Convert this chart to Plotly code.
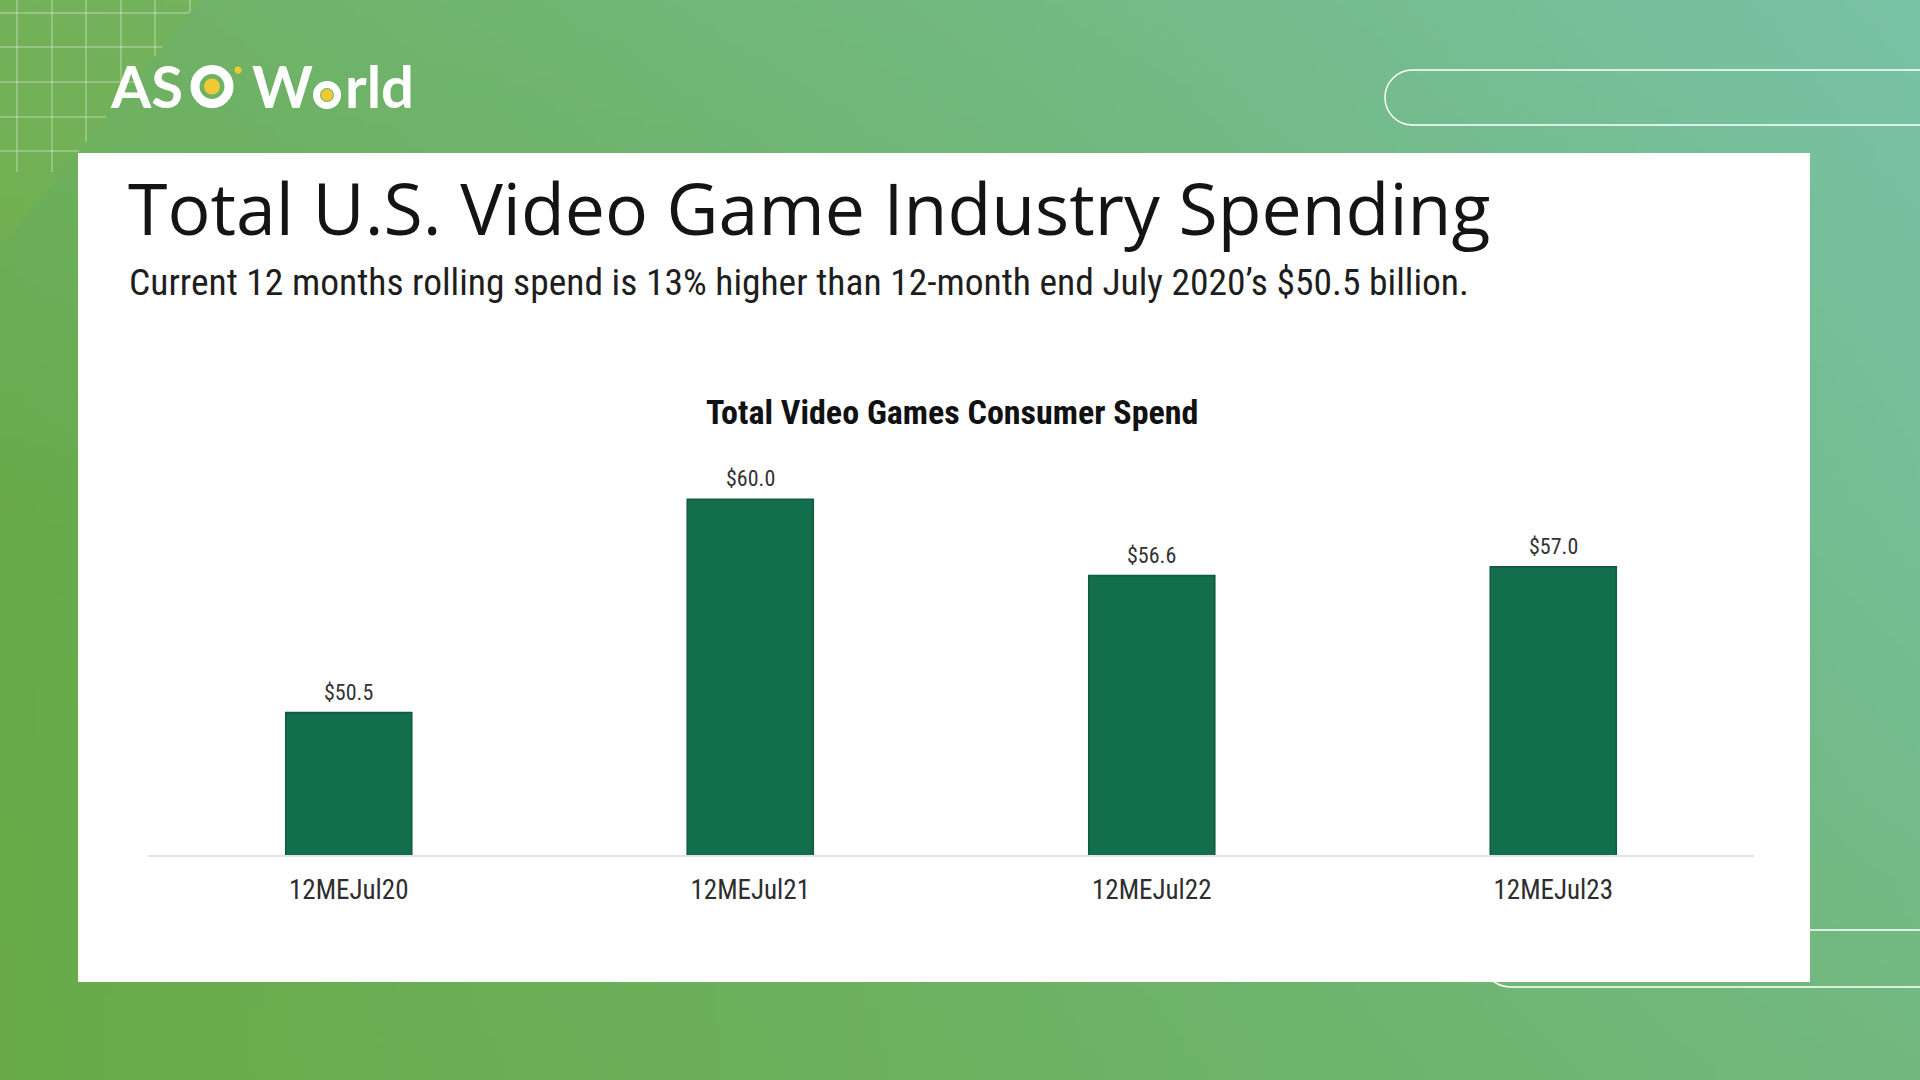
import base64
import struct
import zlib
import plotly.graph_objects as go

W, H = 1920, 1080

# ---------------- data ----------------
categories = ["12MEJul20", "12MEJul21", "12MEJul22", "12MEJul23"]
spend_billions = [50.5, 60.0, 56.6, 57.0]
value_labels = ["$50.5", "$60.0", "$56.6", "$57.0"]

title_text = "Total U.S. Video Game Industry Spending"
subtitle_text = "Current 12 months rolling spend is 13% higher than 12-month end July 2020\u2019s $50.5 billion."
chart_title_text = "Total Video Games Consumer Spend"

# ---------------- helpers ----------------
def px(x):
    return x / W


def py(y):
    return 1 - y / H


def gradient_png(w, h, grid):
    rows = []
    ny, nx = len(grid) - 1, len(grid[0]) - 1
    for j in range(h):
        fy = j / (h - 1) * ny
        iy = min(int(fy), ny - 1)
        ty = fy - iy
        row = bytearray([0])
        for i in range(w):
            fx = i / (w - 1) * nx
            ix = min(int(fx), nx - 1)
            tx = fx - ix
            for k in range(3):
                a = grid[iy][ix][k] * (1 - tx) + grid[iy][ix + 1][k] * tx
                b = grid[iy + 1][ix][k] * (1 - tx) + grid[iy + 1][ix + 1][k] * tx
                row.append(int(round(a * (1 - ty) + b * ty)))
        rows.append(bytes(row))
    raw = b"".join(rows)

    def chunk(tag, data):
        return (struct.pack(">I", len(data)) + tag + data
                + struct.pack(">I", zlib.crc32(tag + data) & 0xFFFFFFFF))

    png = (b"\x89PNG\r\n\x1a\n"
           + chunk(b"IHDR", struct.pack(">IIBBBBB", w, h, 8, 2, 0, 0, 0))
           + chunk(b"IDAT", zlib.compress(raw, 9))
           + chunk(b"IEND", b""))
    return "data:image/png;base64," + base64.b64encode(png).decode()


def pill_path(x_left, y_top, y_bot, x_right):
    r = (y_bot - y_top) / 2
    k = 0.5523 * r
    ym = (y_top + y_bot) / 2
    pts = [
        ("M", [(x_right, y_top)]),
        ("L", [(x_left + r, y_top)]),
        ("C", [(x_left + r - k, y_top), (x_left, ym - k), (x_left, ym)]),
        ("C", [(x_left, ym + k), (x_left + r - k, y_bot), (x_left + r, y_bot)]),
        ("L", [(x_right, y_bot)]),
    ]
    s = ""
    for cmd, plist in pts:
        s += cmd + " " + " ".join(f"{px(a):.5f},{py(b):.5f}" for a, b in plist) + " "
    return s.strip()


bg_grid = [
    [(111, 177, 98), (114, 185, 128), (120, 194, 166)],
    [(103, 170, 74), (108, 178, 106), (116, 190, 150)],
    [(104, 171, 72), (108, 177, 96), (114, 184, 126)],
]
bg_src = gradient_png(192, 108, bg_grid)

COND = "Roboto Condensed, Liberation Sans Narrow, Arial Narrow, DejaVu Sans Condensed, sans-serif"

# ---------------- traces ----------------
fig = go.Figure()
fig.add_trace(go.Bar(
    x=categories,
    y=spend_billions,
    width=0.314,
    marker=dict(color="#136E4E", line=dict(color="#0E5A3F", width=1.5)),
    hoverinfo="x+y",
    showlegend=False,
))

# ---------------- shapes ----------------
shapes = []
# top-left grid area
shapes.append(dict(type="path", xref="paper", yref="paper", layer="below",
                   path=f"M {px(0)},{py(0)} L {px(200)},{py(0)} L {px(0)},{py(250)} Z",
                   fillcolor="rgba(125,178,70,0.30)", line=dict(width=0)))
for gx in [17, 52, 86, 121, 155, 190]:
    y_end = min((200 - gx) / 0.8, 172)
    shapes.append(dict(type="line", xref="paper", yref="paper", layer="below",
                       x0=px(gx), x1=px(gx), y0=py(0), y1=py(y_end),
                       line=dict(color="rgba(255,255,255,0.5)", width=1)))
for gy in [13, 47, 82, 117, 151]:
    x_end = max(200 - 0.8 * gy, 0)
    shapes.append(dict(type="line", xref="paper", yref="paper", layer="below",
                       x0=px(0), x1=px(x_end), y0=py(gy), y1=py(gy),
                       line=dict(color="rgba(255,255,255,0.5)", width=1)))
# decorative pills
shapes.append(dict(type="path", xref="paper", yref="paper", layer="below",
                   path=pill_path(1385, 70, 125, 1930),
                   line=dict(color="white", width=1.5)))
shapes.append(dict(type="path", xref="paper", yref="paper", layer="below",
                   path=pill_path(1482, 930, 987, 1930),
                   line=dict(color="white", width=1.5)))
# white card
shapes.append(dict(type="rect", xref="paper", yref="paper", layer="below",
                   x0=px(78), x1=px(1810), y0=py(153), y1=py(982),
                   fillcolor="white", line=dict(width=0)))


# logo rings and dots
def circle(cx, cy, r, **kw):
    return dict(type="circle", xref="paper", yref="paper", layer="above",
                x0=px(cx - r), x1=px(cx + r), y0=py(cy + r), y1=py(cy - r), **kw)


shapes.append(circle(212, 86.5, 17, line=dict(color="white", width=9), fillcolor="rgba(0,0,0,0)"))
shapes.append(circle(212, 86.5, 8, line=dict(width=0), fillcolor="#F2C933"))
shapes.append(circle(238, 70, 3.5, line=dict(width=0), fillcolor="#F2C933"))
shapes.append(circle(327, 95, 10.5, line=dict(color="white", width=7), fillcolor="rgba(0,0,0,0)"))
shapes.append(circle(327, 95, 6, line=dict(width=0), fillcolor="#F2C933"))

# ---------------- annotations ----------------
ann = []
LOGO_FONT = dict(family="Lato, Open Sans, sans-serif", size=58, color="white", weight=700)
for txt, cx in [("AS", 146), ("W", 282), ("rld", 379)]:
    ann.append(dict(text=txt, x=px(cx), y=py(86), xref="paper", yref="paper",
                    xanchor="center", yanchor="middle", showarrow=False, font=LOGO_FONT))

ann.append(dict(text=title_text, x=px(126), y=py(207), xref="paper", yref="paper",
                xanchor="left", yanchor="middle", showarrow=False,
                font=dict(family="Open Sans, sans-serif", size=71.6, color="#141414")))
ann.append(dict(text=subtitle_text, x=px(127), y=py(282), xref="paper", yref="paper",
                xanchor="left", yanchor="middle", showarrow=False,
                font=dict(family=COND, size=37.5, color="#1E1E1E")))
ann.append(dict(text=chart_title_text, x=px(952), y=py(412), xref="paper", yref="paper",
                xanchor="center", yanchor="middle", showarrow=False,
                font=dict(family=COND, size=34, color="#111111", weight=700)))

for cat, val, lab in zip(categories, spend_billions, value_labels):
    ann.append(dict(text=lab, x=cat, y=val, xref="x", yref="y",
                    xanchor="center", yanchor="bottom", yshift=6, showarrow=False,
                    font=dict(family=COND, size=22, color="#333333")))

# ---------------- layout ----------------
fig.update_layout(
    width=W, height=H,
    margin=dict(l=0, r=0, t=0, b=0, pad=0),
    paper_bgcolor="#6CB060",
    plot_bgcolor="rgba(0,0,0,0)",
    showlegend=False,
    images=[dict(source=bg_src, xref="paper", yref="paper", x=0, y=1,
                 sizex=1, sizey=1, sizing="stretch", layer="below",
                 xanchor="left", yanchor="top")],
    shapes=shapes,
    annotations=ann,
    xaxis=dict(domain=[px(148), px(1754)], range=[-0.5, 3.5], type="category",
               showline=True, linecolor="#E2E2E2", linewidth=2, showgrid=False,
               zeroline=False, ticks="", automargin=False, fixedrange=True,
               ticklabelstandoff=10,
               tickfont=dict(family=COND, size=27, color="#2E2E2E")),
    yaxis=dict(domain=[py(855), py(380)], range=[44.16, 65.31], visible=False,
               showgrid=False, zeroline=False, automargin=False, fixedrange=True),
)

fig.write_html("out.html")
